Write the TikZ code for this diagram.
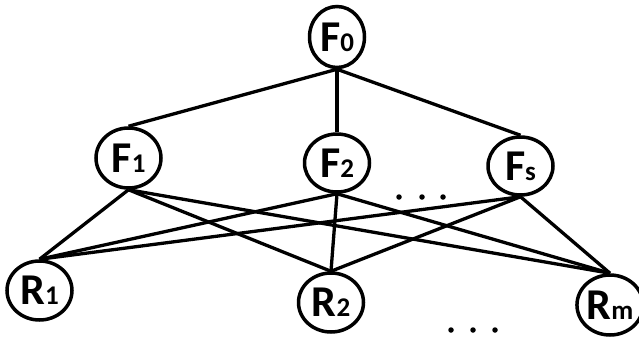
\documentclass[tikz,border=0pt]{standalone}
\usepackage{fontspec}
\setmainfont{Carlito}
\usetikzlibrary{shapes.geometric}
\pgfdeclarelayer{background}
\pgfsetlayers{background,main}
\newcommand{\lab}[2]{{\bfseries\fontsize{44}{44}\selectfont #1}{\bfseries\fontsize{27}{27}\selectfont #2}}
\tikzset{
  vert/.style={draw=black, line width=3.5pt, ellipse, inner sep=0pt, fill=white},
  link/.style={draw=black, line width=3.3pt},
  dotmark/.style={circle, fill=black, inner sep=0pt, minimum size=5.5pt}
}
\begin{document}
\begin{tikzpicture}[x=1pt,y=-1pt]
\useasboundingbox (0,0) rectangle (639,338);
\node[vert, minimum width=55pt, minimum height=61pt] (F0) at (337,37) {\lab{F}{0}};
\node[vert, minimum width=65pt, minimum height=60pt] (F1) at (128.5,158) {\lab{F}{1}};
\node[vert, minimum width=65pt, minimum height=58pt] (F2) at (337,163) {\lab{F}{2}};
\node[vert, minimum width=65pt, minimum height=58pt] (Fs) at (520.5,166) {\lab{F}{s}};
\node[vert, minimum width=65pt, minimum height=59pt] (R1) at (39.5,290.5) {\lab{R}{1}};
\node[vert, minimum width=65pt, minimum height=59pt] (R2) at (331,302.5) {\lab{R}{2}};
\node[vert, minimum width=56pt, minimum height=60pt] (Rm) at (610,305) {\lab{R}{m}};
\begin{pgfonlayer}{background}
\path[link] (F0.south) -- (F1.north);
\path[link] (F0.south) -- (F2.north);
\path[link] (F0.south) -- (Fs.north);
\foreach \a in {F1,F2,Fs}{
  \foreach \b in {R1,R2,Rm}{
    \path[link] (\a.south) -- (\b.north);
  }
}
\end{pgfonlayer}
\node[dotmark] (d1) at (399,197) {};
\node[dotmark] (d2) at (422,197) {};
\node[dotmark] (d3) at (443,197) {};
\node[dotmark] (d4) at (451,330) {};
\node[dotmark] (d5) at (473,330) {};
\node[dotmark] (d6) at (495,330) {};
\end{tikzpicture}
\end{document}
